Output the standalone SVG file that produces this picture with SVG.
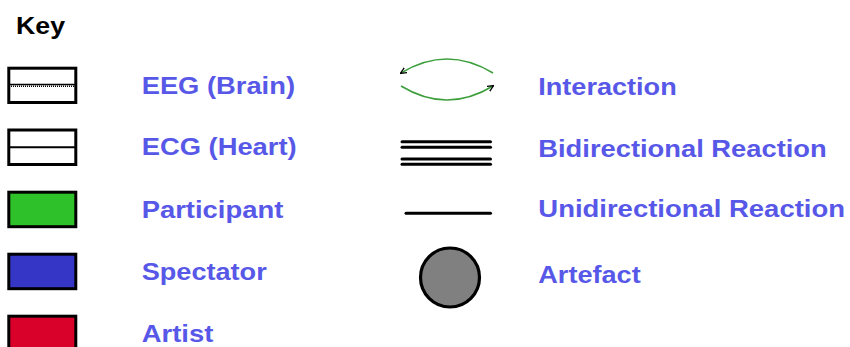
<svg xmlns="http://www.w3.org/2000/svg" width="850" height="347" viewBox="0 0 850 347">
<defs>
<style>
.lbl{font-family:"Liberation Sans",Arial,sans-serif;font-weight:bold;font-size:24.5px;fill:#5858e8}
.ttl{font-family:"Liberation Sans",Arial,sans-serif;font-weight:bold;font-size:24.5px;fill:#000}
.box{stroke:#000;stroke-width:3}
.arc{fill:none;stroke:#3c9f3c;stroke-width:1.6}
.bar{stroke:#000;stroke-width:3;stroke-linecap:round}
</style>
<marker id="ah" viewBox="0 0 10 10" refX="8" refY="5" markerWidth="7" markerHeight="7" orient="auto" markerUnits="userSpaceOnUse">
<path d="M0,1 L9,5 L0,9" fill="none" stroke="#000" stroke-width="1.8"/>
</marker>
</defs>
<rect width="850" height="347" fill="#fff"/>
<text class="ttl" x="16" y="34.3" textLength="49" lengthAdjust="spacingAndGlyphs">Key</text>

<g id="eeg">
<rect class="box" x="8.8" y="68.2" width="67" height="34.3" fill="#fff"/>
<line x1="9" y1="84.5" x2="76" y2="84.5" stroke="#000" stroke-width="1.6"/>
<line x1="9" y1="86.3" x2="76" y2="86.3" stroke="#000" stroke-width="1.4" stroke-dasharray="1 1"/>
<text class="lbl" x="141.7" y="94" textLength="153.3" lengthAdjust="spacingAndGlyphs">EEG (Brain)</text>
</g>
<g id="ecg">
<rect class="box" x="8.8" y="130" width="67" height="34.5" fill="#fff"/>
<line x1="9" y1="147.3" x2="76" y2="147.3" stroke="#000" stroke-width="2"/>
<text class="lbl" x="141.7" y="155" textLength="155" lengthAdjust="spacingAndGlyphs">ECG (Heart)</text>
</g>
<g id="participant">
<rect class="box" x="8.8" y="192.2" width="67" height="34.5" fill="#2fc12a"/>
<text class="lbl" x="141.7" y="218.3" textLength="141.6" lengthAdjust="spacingAndGlyphs">Participant</text>
</g>
<g id="spectator">
<rect class="box" x="8.8" y="254.2" width="67" height="34.5" fill="#3535c6"/>
<text class="lbl" x="141.7" y="280" textLength="125" lengthAdjust="spacingAndGlyphs">Spectator</text>
</g>
<g id="artist">
<rect class="box" x="8.8" y="316.2" width="67" height="40" fill="#d9002a"/>
<text class="lbl" x="141.7" y="341.7" textLength="71.6" lengthAdjust="spacingAndGlyphs">Artist</text>
</g>

<g id="connectors">
<g id="interaction">
<path class="arc" d="M493,73 Q447,45 401,73" marker-end="url(#ah)"/>
<path class="arc" d="M401,86 Q447,114 493,86" marker-end="url(#ah)"/>
</g>
<g id="bidirectional">
<line class="bar" x1="402" y1="141.7" x2="490.5" y2="141.7"/>
<line class="bar" x1="402" y1="147.3" x2="490.5" y2="147.3"/>
<line class="bar" x1="402" y1="159" x2="490.5" y2="159"/>
<line class="bar" x1="402" y1="164.3" x2="490.5" y2="164.3"/>
</g>
<g id="unidirectional">
<line class="bar" x1="406" y1="213.3" x2="490.5" y2="213.3"/>
</g>
</g>

<g id="artefact">
<circle cx="450" cy="277.5" r="29.5" fill="#808080" stroke="#000" stroke-width="3.2"/>
</g>

<text class="lbl" x="538.3" y="95" textLength="138.4" lengthAdjust="spacingAndGlyphs">Interaction</text>
<text class="lbl" x="538.3" y="157.3" textLength="288.4" lengthAdjust="spacingAndGlyphs">Bidirectional Reaction</text>
<text class="lbl" x="538.3" y="216.7" textLength="306.7" lengthAdjust="spacingAndGlyphs">Unidirectional Reaction</text>
<text class="lbl" x="538.3" y="283.3" textLength="102.4" lengthAdjust="spacingAndGlyphs">Artefact</text>
</svg>
